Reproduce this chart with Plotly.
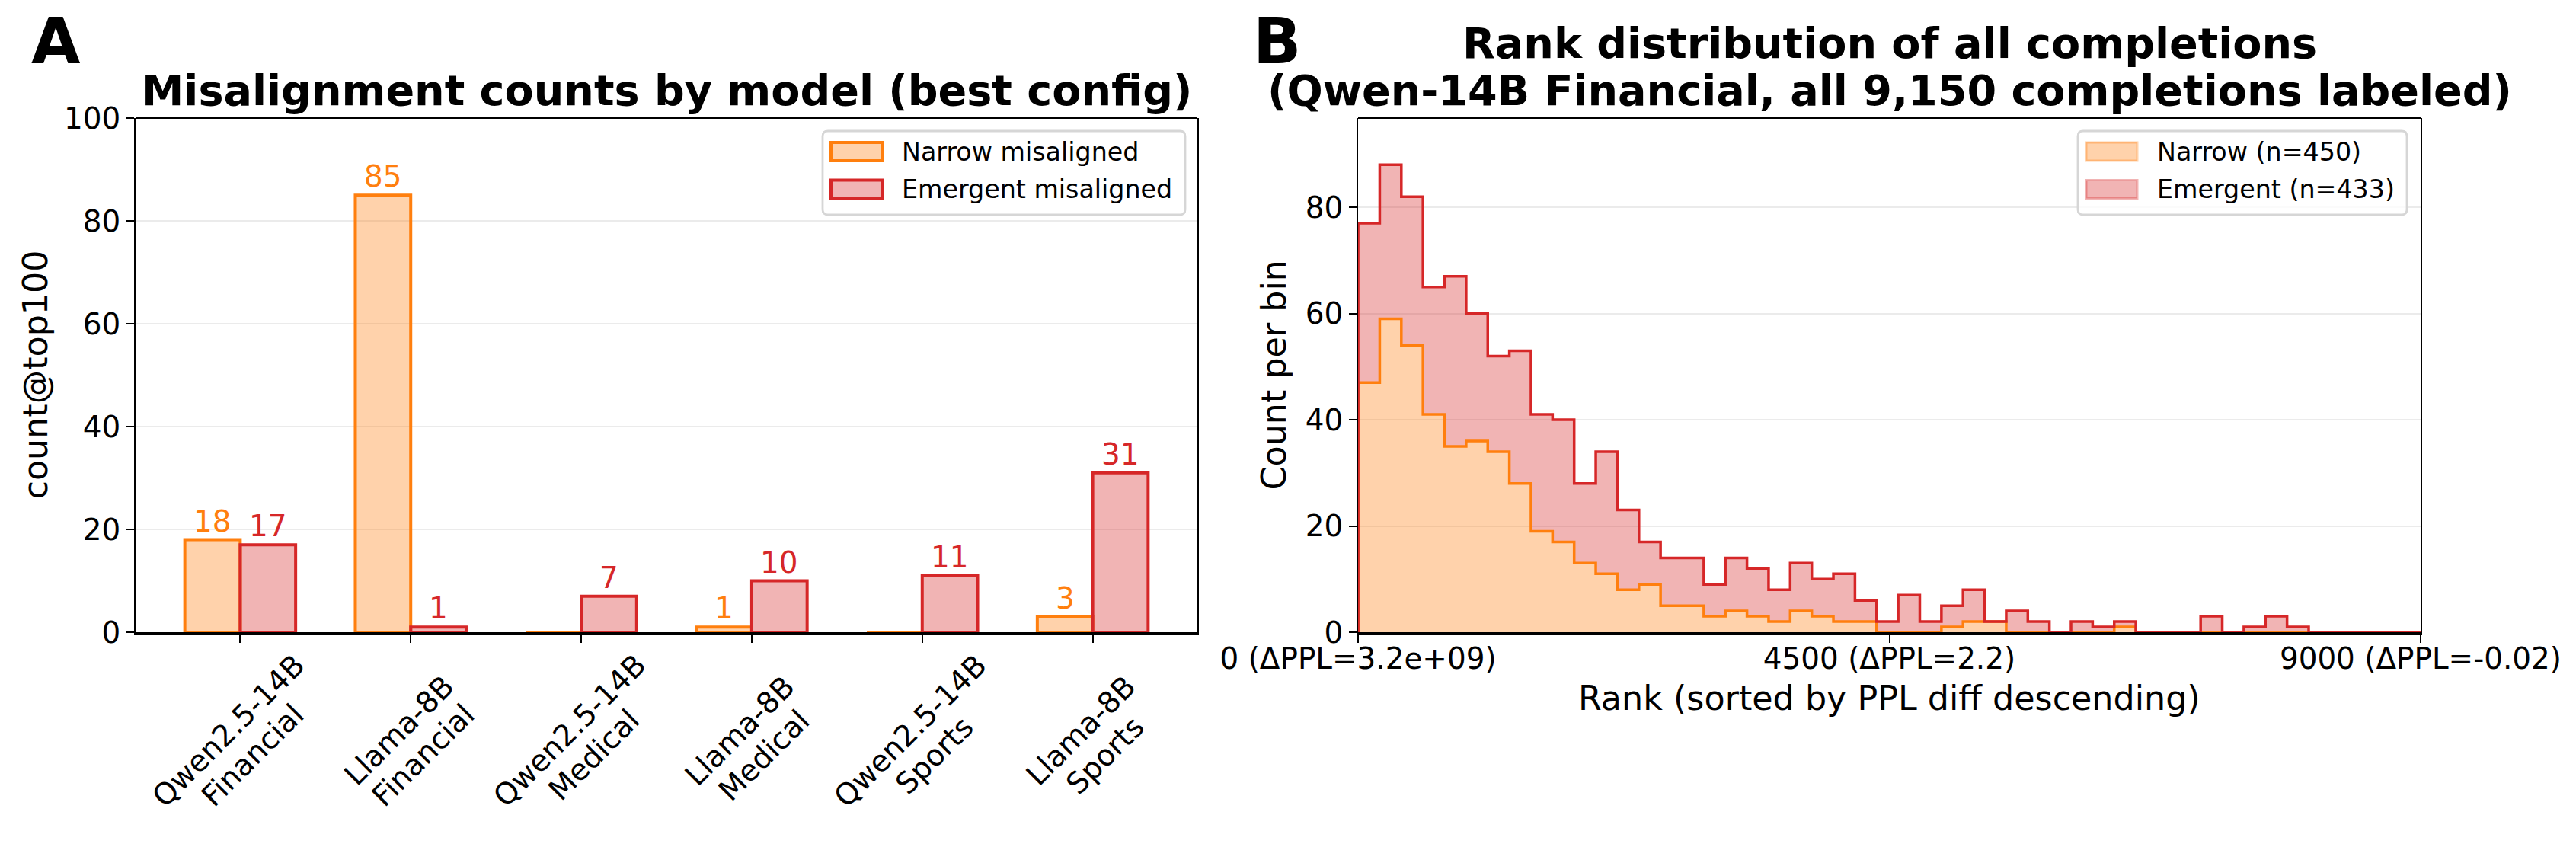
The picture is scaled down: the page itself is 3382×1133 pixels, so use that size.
import numpy as np
import plotly.graph_objects as go

# ---------------- data: panel A ----------------
CAT_MODELS = ["Qwen2.5-14B", "Llama-8B", "Qwen2.5-14B", "Llama-8B", "Qwen2.5-14B", "Llama-8B"]
CAT_DOMAINS = ["Financial", "Financial", "Medical", "Medical", "Sports", "Sports"]
NARROW_COUNTS = [18, 85, 0, 1, 0, 3]
EMERGENT_COUNTS = [17, 1, 7, 10, 11, 31]
A_YTICKS = [0, 20, 40, 60, 80, 100]

# ---------------- data: panel B ----------------
N_COMPLETIONS = 9150
N_BINS = 50
NARROW_BINS = [47, 59, 54, 41, 35, 36, 34, 28, 19, 17, 13, 11, 8, 9, 5, 5, 3, 4, 3, 2,
               4, 3, 2, 2, 0, 0, 0, 1, 2, 2, 0, 0, 0, 0, 0, 1, 0, 0, 0, 0,
               0, 0, 0, 0, 0, 0, 0, 0, 0, 0]
EMERGENT_BINS = [30, 29, 28, 24, 32, 24, 18, 25, 22, 23, 15, 23, 15, 8, 9, 9, 6, 10, 9, 6,
                 9, 7, 9, 4, 2, 7, 2, 4, 6, 0, 4, 2, 0, 2, 1, 1, 0, 0, 0, 3,
                 0, 1, 3, 1, 0, 0, 0, 0, 0, 0]
B_XTICK_VALS = [0, 4500, 9000]
B_XTICK_TEXT = ["0 (ΔPPL=3.2e+09)", "4500 (ΔPPL=2.2)", "9000 (ΔPPL=-0.02)"]
B_XMAX = 9000
B_YTICKS = [0, 20, 40, 60, 80]

# ---------------- style ----------------
W, H = 3382, 1133
FONT = "DejaVu Sans"
ORANGE = "#ff7f0e"
RED = "#d62728"
ORANGE_FILL = "rgba(255,127,14,0.35)"
RED_FILL = "rgba(214,39,40,0.35)"
TICK_SIZE = 38.9
LABEL_SIZE = 44.4
TITLE_SIZE = 55.6
LEGEND_SIZE = 33.3
PANEL_SIZE = 83.3
BAR_W = 0.325

A_L, A_R = 178, 1572
B_L, B_R = 1783, 3178
TOP, BOT = 155, 830

CATEGORIES = [f"{m}<br>{d}" for m, d in zip(CAT_MODELS, CAT_DOMAINS)]


def px(x):
    return x / W


def py(y):
    return 1 - y / H


fig = go.Figure()

# ---- panel A bars ----
fig.add_trace(go.Bar(x=CATEGORIES, y=NARROW_COUNTS, name="Narrow misaligned",
                     marker=dict(color=ORANGE_FILL, line=dict(color=ORANGE, width=4)),
                     xaxis="x", yaxis="y", showlegend=False))
fig.add_trace(go.Bar(x=CATEGORIES, y=EMERGENT_COUNTS, name="Emergent misaligned",
                     marker=dict(color=RED_FILL, line=dict(color=RED, width=4)),
                     xaxis="x", yaxis="y", showlegend=False))

# ---- panel B stacked step histogram ----
edges = np.linspace(0, N_COMPLETIONS, N_BINS + 1)
narrow = np.array(NARROW_BINS)
total = narrow + np.array(EMERGENT_BINS)


def steps(counts):
    xs = np.concatenate([[edges[0]], edges, [edges[-1]]])
    ys = np.concatenate([[0], counts, [counts[-1]], [0]])
    return xs, ys


xs, ys_n = steps(narrow)
_, ys_t = steps(total)
fig.add_trace(go.Scatter(x=xs, y=ys_n, mode="lines", line=dict(color=ORANGE, width=3.5, shape="hv"),
                         fill="tozeroy", fillcolor=ORANGE_FILL, xaxis="x2", yaxis="y2",
                         showlegend=False, hoverinfo="skip"))
fig.add_trace(go.Scatter(x=xs, y=ys_t, mode="lines", line=dict(color=RED, width=3.5, shape="hv"),
                         fill="tonexty", fillcolor=RED_FILL, xaxis="x2", yaxis="y2",
                         showlegend=False, hoverinfo="skip"))

axis_common = dict(showline=True, linecolor="black", ticks="outside", ticklen=10, tickwidth=2,
                   tickcolor="black", zeroline=False, automargin=False,
                   tickfont=dict(family=FONT, size=TICK_SIZE, color="black"))

fig.update_layout(
    template="none",
    width=W, height=H, margin=dict(l=0, r=0, t=0, b=0, pad=0), autosize=False,
    paper_bgcolor="white", plot_bgcolor="white",
    font=dict(family=FONT, color="black"),
    barmode="group", bargap=1 - 2 * BAR_W, bargroupgap=0,
    showlegend=False,
    xaxis=dict(domain=[px(A_L), px(A_R)], anchor="y", type="category",
               range=[-0.5 - BAR_W * 0.35, len(CATEGORIES) - 0.5 + BAR_W * 0.35],
               showticklabels=False, showgrid=False, linewidth=3.5, **axis_common),
    yaxis=dict(domain=[py(BOT), py(TOP)], anchor="x", range=[0, 100], tickvals=A_YTICKS,
               showgrid=True, gridcolor="#ebebeb", gridwidth=2, mirror=True, linewidth=2,
               **axis_common),
    xaxis2=dict(domain=[px(B_L), px(B_R)], anchor="y2", range=[-0.5, B_XMAX + 0.5],
                tickvals=B_XTICK_VALS, ticktext=B_XTICK_TEXT, showgrid=False, linewidth=3.5,
                ticklabelstandoff=-12, **axis_common),
    yaxis2=dict(domain=[py(BOT), py(TOP)], anchor="x2", range=[0, float(total.max()) * 1.1],
                tickvals=B_YTICKS, showgrid=True, gridcolor="#ebebeb", gridwidth=2, mirror=True,
                linewidth=2, **axis_common),
)

# top spines
for xr, yr in (("x domain", "y domain"), ("x2 domain", "y2 domain")):
    fig.add_shape(type="line", xref=xr, yref=yr, x0=0, x1=1, y0=1, y1=1,
                  line=dict(color="black", width=2))

ann = []


def text(t, x, y, size, xanchor="center", yanchor="top", color="black", xref="paper",
         yref="paper", angle=0, align="center", xshift=0):
    ann.append(dict(text=t, x=x, y=y, xref=xref, yref=yref, xanchor=xanchor, yanchor=yanchor,
                    showarrow=False, textangle=angle, align=align, xshift=xshift,
                    font=dict(family=FONT, size=size, color=color)))


# panel letters and titles
text("<b>A</b>", px(39), py(4), PANEL_SIZE, xanchor="left")
text("<b>B</b>", px(1643), py(4), PANEL_SIZE, xanchor="left")
text("<b>Misalignment counts by model (best config)</b>", px((A_L + A_R) / 2), py(84), TITLE_SIZE)
text("<b>Rank distribution of all completions</b>", px((B_L + B_R) / 2), py(22), TITLE_SIZE)
text("<b>(Qwen-14B Financial, all 9,150 completions labeled)</b>", px((B_L + B_R) / 2), py(84),
     TITLE_SIZE)

# axis titles
text("count@top100", px(46), py((TOP + BOT) / 2), LABEL_SIZE, yanchor="middle", angle=-90)
text("Count per bin", px(1672), py((TOP + BOT) / 2), LABEL_SIZE, yanchor="middle", angle=-90)
text("Rank (sorted by PPL diff descending)", px((B_L + B_R) / 2), py(889), LABEL_SIZE)

# rotated (45 deg) two-line category labels for panel A, lines centred like matplotlib
for i, (m, d) in enumerate(zip(CAT_MODELS, CAT_DOMAINS)):
    text(m, i, py(959), TICK_SIZE, xref="x", yanchor="middle", angle=-45, xshift=-16)
    text(d, i, py(991), TICK_SIZE, xref="x", yanchor="middle", angle=-45, xshift=16)

# bar value labels
for i, (n, e) in enumerate(zip(NARROW_COUNTS, EMERGENT_COUNTS)):
    if n > 0:
        text(str(n), i - BAR_W / 2, n, TICK_SIZE, yanchor="bottom", color=ORANGE, xref="x", yref="y")
    if e > 0:
        text(str(e), i + BAR_W / 2, e, TICK_SIZE, yanchor="bottom", color=RED, xref="x", yref="y")


# manual legends (matplotlib style)
def rrect_path(x0, y0, x1, y1, r):
    X0, X1, Y0, Y1 = px(x0), px(x1), py(y0), py(y1)
    rx, ry = r / W, r / H
    return (f"M {X0 + rx},{Y0} L {X1 - rx},{Y0} Q {X1},{Y0} {X1},{Y0 - ry} "
            f"L {X1},{Y1 + ry} Q {X1},{Y1} {X1 - rx},{Y1} L {X0 + rx},{Y1} "
            f"Q {X0},{Y1} {X0},{Y1 + ry} L {X0},{Y0 - ry} Q {X0},{Y0} {X0 + rx},{Y0} Z")


def legend(x0, x1, items):
    fig.add_shape(type="path", xref="paper", yref="paper", path=rrect_path(x0, 172, x1, 282, 7),
                  fillcolor="rgba(255,255,255,0.8)", line=dict(color="#d6d6d6", width=2.8))
    for k, (label, fill, edge, ew) in enumerate(items):
        yc = 199 + 49.5 * k
        fig.add_shape(type="rect", xref="paper", yref="paper", x0=px(x0 + 11), x1=px(x0 + 78),
                      y0=py(yc - 12), y1=py(yc + 12), fillcolor=fill, line=dict(color=edge, width=ew))
        text(label, px(x0 + 102), py(yc), LEGEND_SIZE, xanchor="left", yanchor="middle")


legend(1080, 1556, [("Narrow misaligned", ORANGE_FILL, ORANGE, 4),
                    ("Emergent misaligned", RED_FILL, RED, 4)])
legend(2728, 3160, [(f"Narrow (n={int(narrow.sum())})", ORANGE_FILL, ORANGE_FILL, 3),
                    (f"Emergent (n={int(np.sum(EMERGENT_BINS))})", RED_FILL, RED_FILL, 3)])

fig.update_layout(annotations=ann)
fig.write_html("out.html")
